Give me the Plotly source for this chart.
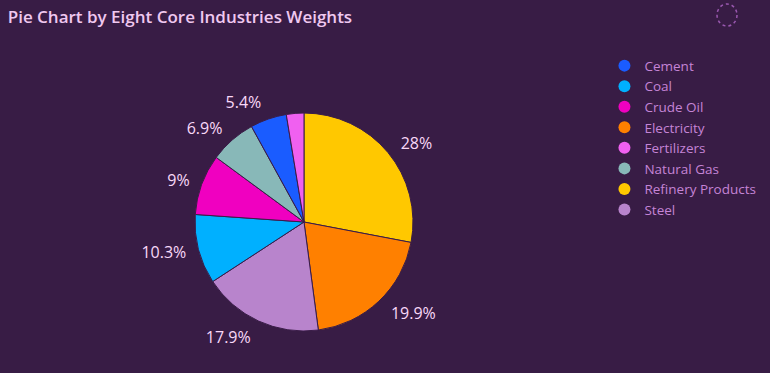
import plotly.graph_objects as go

industries = ["Cement", "Coal", "Crude Oil", "Electricity", "Fertilizers",
              "Natural Gas", "Refinery Products", "Steel"]
weights = [5.4, 10.3, 9.0, 19.9, 2.6, 6.9, 28.0, 17.9]
colors = ["#1a5cff", "#00b0ff", "#f000c0", "#ff8000", "#f060f0",
          "#88b8b8", "#ffc800", "#b884cc"]
hidden_labels = ["Fertilizers"]

BG = "#381c45"
FONT = "Open Sans"
label_text = ["" if n in hidden_labels else f"{w:g}%" for n, w in zip(industries, weights)]

fig = go.Figure()
# transparent, slightly larger pie that only carries the percentage labels
fig.add_trace(go.Pie(
    labels=industries, values=weights, text=label_text,
    textinfo="text", textposition="outside",
    sort=True, direction="clockwise", rotation=0,
    marker=dict(colors=["rgba(0,0,0,0)"] * len(industries), line=dict(width=0)),
    textfont=dict(family=FONT, size=16, color="#f8d8f8"),
    showlegend=False, hoverinfo="skip",
    domain=dict(x=[0.2442, 0.5481], y=[0.0912, 0.7185]),
))
fig.add_trace(go.Pie(
    labels=industries, values=weights,
    textinfo="none",
    sort=True, direction="clockwise", rotation=0,
    marker=dict(colors=colors, line=dict(color="#3a1d48", width=1)),
    showlegend=False,
    domain=dict(x=[0.2532, 0.5364], y=[0.1126, 0.697]),
))
for n, c in zip(industries, colors):
    fig.add_trace(go.Scatter(x=[None], y=[None], mode="markers", name=n,
                             marker=dict(color=c, size=10, symbol="circle")))

fig.update_layout(
    width=770, height=373,
    paper_bgcolor=BG, plot_bgcolor=BG,
    margin=dict(l=0, r=0, t=0, b=0),
    title=dict(text="Pie Chart by Eight Core Industries Weights",
               x=0.01, xanchor="left", xref="paper",
               y=0.955, yanchor="middle", yref="container",
               font=dict(family=FONT, size=17, color="#f0c8f0", weight=600)),
    xaxis=dict(visible=False), yaxis=dict(visible=False),
    legend=dict(x=0.785, y=0.865, xanchor="left", yanchor="top",
                font=dict(family=FONT, size=13.5, color="#c584d6"),
                bgcolor="rgba(0,0,0,0)", tracegroupgap=0, itemsizing="constant"),
    shapes=[dict(type="circle", xref="paper", yref="paper",
                 x0=717/770, x1=737/770, y0=1-26/373, y1=1-4/373,
                 line=dict(color="#9a58b0", width=1.5, dash="dot"))],
)
fig.write_html("out.html", config={"displayModeBar": False},
               post_script="document.body.style.margin='0';")
